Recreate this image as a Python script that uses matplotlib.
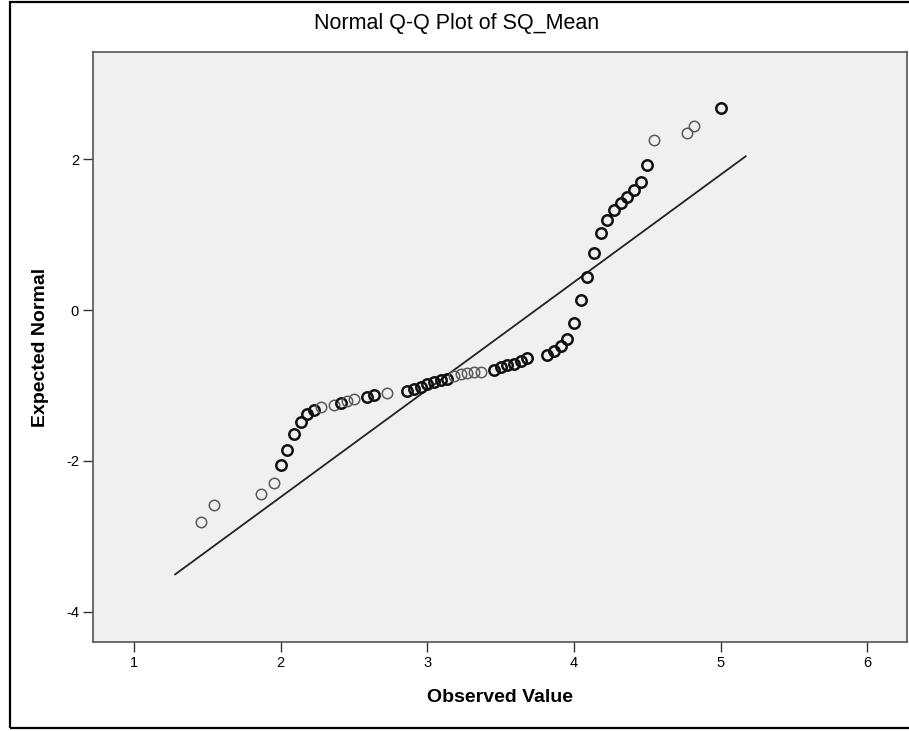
import matplotlib
matplotlib.use("Agg")
import matplotlib.pyplot as plt
from matplotlib.patches import Rectangle

plt.rcParams["font.family"] = ["Liberation Sans", "DejaVu Sans"]
plt.rcParams["axes.unicode_minus"] = False

# observed SQ_Mean values (distinct) and their expected normal scores
observed = [1.455, 1.545, 1.864, 1.955, 2.000, 2.045, 2.091, 2.136, 2.182, 2.227,
            2.273, 2.364, 2.409, 2.455, 2.500, 2.591, 2.636, 2.727, 2.864, 2.909,
            2.955, 3.000, 3.045, 3.091, 3.136, 3.182, 3.227, 3.273, 3.318, 3.364,
            3.455, 3.500, 3.545, 3.591, 3.636, 3.682, 3.818, 3.864, 3.909, 3.955,
            4.000, 4.045, 4.091, 4.136, 4.182, 4.227, 4.273, 4.318, 4.364, 4.409,
            4.455, 4.500, 4.545, 4.773, 4.818, 5.000]
expected = [-2.81, -2.58, -2.44, -2.29, -2.06, -1.85, -1.65, -1.48, -1.38, -1.32,
            -1.28, -1.26, -1.23, -1.20, -1.18, -1.15, -1.12, -1.10, -1.07, -1.05,
            -1.02, -0.98, -0.95, -0.93, -0.92, -0.88, -0.85, -0.84, -0.82, -0.82,
            -0.79, -0.76, -0.73, -0.71, -0.68, -0.63, -0.59, -0.54, -0.48, -0.38,
            -0.17, 0.13, 0.44, 0.76, 1.02, 1.19, 1.32, 1.42, 1.50, 1.59,
            1.70, 1.92, 2.25, 2.34, 2.44, 2.68]
# 1 where several cases share the value (drawn darker)
tied = [0, 0, 0, 0, 1, 1, 1, 1, 1, 1,
        0, 0, 1, 0, 0, 1, 1, 0, 1, 1,
        1, 1, 1, 1, 1, 0, 0, 0, 0, 0,
        1, 1, 1, 1, 1, 1, 1, 1, 1, 1,
        1, 1, 1, 1, 1, 1, 1, 1, 1, 1,
        1, 1, 0, 0, 0, 1]

# reference line y = (x - mean) / sd
line_x = [1.28, 5.17]
mean, sd = 3.74, 0.702

x_ticks = [1, 2, 3, 4, 5, 6]
y_ticks = [-4, -2, 0, 2]

fig = plt.figure(figsize=(9.09, 7.31), dpi=100)
fig.patch.set_facecolor("white")
fig.add_artist(Rectangle((0.011, 0.004), 1.2, 0.993, transform=fig.transFigure,
                         fill=False, edgecolor="black", linewidth=1.6))

ax = fig.add_axes([0.1023, 0.1218, 0.8955, 0.8071])
ax.set_facecolor("#f0f0f0")

ax.plot(line_x, [(v - mean) / sd for v in line_x], color="#222222", lw=1.3)

for x, y, t in zip(observed, expected, tied):
    ax.plot(x, y, "o", markersize=7.5, markerfacecolor="none",
            markeredgecolor="#111111" if t else "#5a5a5a",
            markeredgewidth=1.8 if t else 1.1)

ax.set_xlim(0.72, 6.27)
ax.set_ylim(-4.40, 3.42)
ax.set_xticks(x_ticks)
ax.set_yticks(y_ticks)
ax.tick_params(direction="out", length=7, width=1, colors="#333333",
               labelsize=10.5, labelcolor="black", pad=3)
for s in ax.spines.values():
    s.set_color("#555555")
    s.set_linewidth(1.2)

fig.text(457 / 909, 1 - 24 / 731, "Normal Q-Q Plot of SQ_Mean",
         fontsize=15.5, ha="center", va="center")
ax.set_xlabel("Observed Value", fontsize=14, fontweight="bold", labelpad=14)
ax.set_ylabel("Expected Normal", fontsize=14, fontweight="bold", labelpad=12)

fig.savefig("out.png", dpi=100)
